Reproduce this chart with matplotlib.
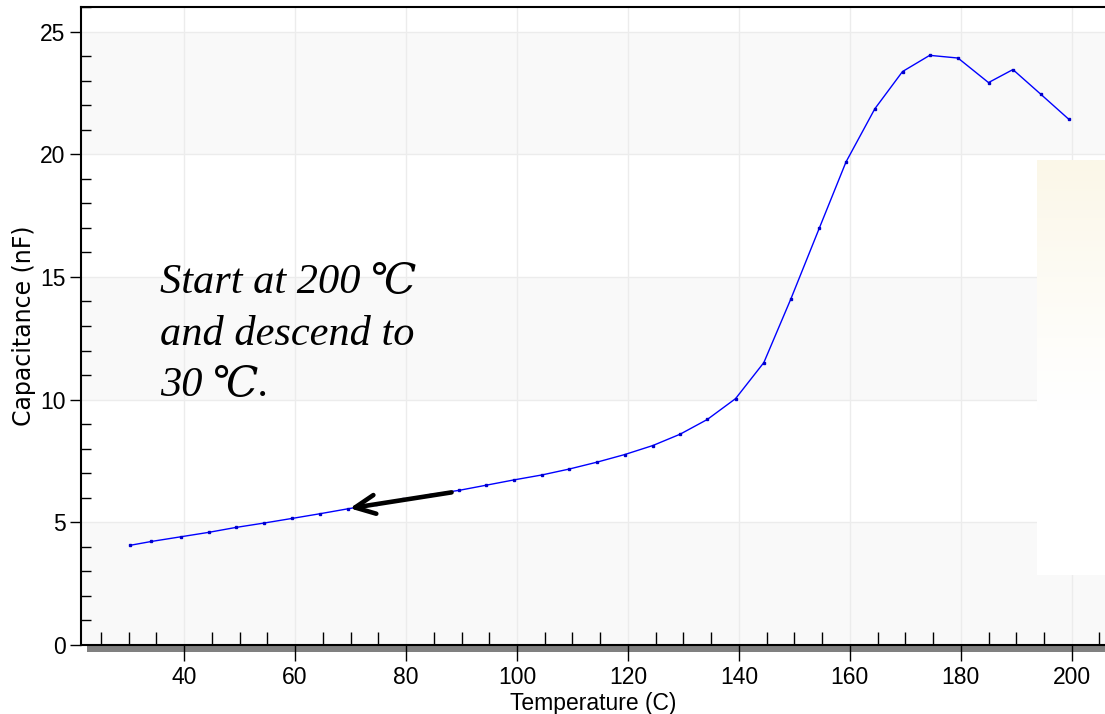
import numpy as np
import matplotlib
matplotlib.use("Agg")
import matplotlib.pyplot as plt
from matplotlib.ticker import MultipleLocator
from matplotlib.patches import Rectangle

temperature = [30.2, 34.1, 39.4, 44.4, 49.3, 54.4, 59.5, 64.5, 69.5, 74.5, 79.5, 84.4,
               89.5, 94.4, 99.5, 104.5, 109.4, 114.4, 119.4, 124.5, 129.4, 134.3, 139.4,
               144.5, 149.4, 154.5, 159.3, 164.5, 169.5, 174.4, 179.5, 185.0, 189.4,
               194.4, 199.5]
capacitance = [4.06, 4.22, 4.41, 4.59, 4.79, 4.97, 5.16, 5.35, 5.55, 5.74, 5.93, 6.13,
               6.30, 6.51, 6.73, 6.93, 7.17, 7.45, 7.76, 8.13, 8.59, 9.19, 10.04,
               11.51, 14.12, 16.99, 19.68, 21.85, 23.37, 24.03, 23.92, 22.92, 23.45,
               22.45, 21.42]
x_ticks = [40, 60, 80, 100, 120, 140, 160, 180, 200]
y_ticks = [0, 5, 10, 15, 20, 25]
band_ranges = [(0, 5), (10, 15), (20, 25)]
note_text = "Start at 200\u2009\u2103\nand descend to\n30\u2009\u2103."
arrow_tail = (88.2, 6.22)
arrow_head = (69.85, 5.57)

plt.rcParams['font.family'] = ['Liberation Sans', 'DejaVu Sans']

W, H = 1105, 714
fig = plt.figure(figsize=(W / 100, H / 100), dpi=100)
fig.patch.set_facecolor('white')
ax = fig.add_axes([81 / W, (H - 645) / H, (W - 81) / W, (645 - 7) / H])

ax.set_xlim(21.4, 206.0)
ax.set_ylim(0, 26)

for lo, hi in band_ranges:
    ax.axhspan(lo, hi, color='#f9f9f9', zorder=0, lw=0)
for yv in y_ticks[1:]:
    ax.axhline(yv, color='#ececec', lw=1.0, zorder=0.5)
for xv in x_ticks:
    ax.axvline(xv, color='#ececec', lw=1.0, zorder=0.5)

ax.plot(temperature, capacitance, color='#0000ff', lw=1.0, marker='s',
        markersize=1.6, markerfacecolor='#0000cc', markeredgecolor='#0000cc', zorder=3)

ax.annotate('', xy=arrow_head, xytext=arrow_tail,
            arrowprops=dict(arrowstyle='->,head_length=0.72,head_width=0.34', lw=3.3,
                            color='black', shrinkA=0, shrinkB=0, mutation_scale=20),
            zorder=4)

ax.text(35.6, 15.53, note_text, fontsize=30.5, style='italic',
        family=['Liberation Serif', 'DejaVu Serif'], va='top', ha='left',
        linespacing=1.43, zorder=5)

ax.set_xticks(x_ticks)
ax.set_yticks(y_ticks)
ax.xaxis.set_minor_locator(MultipleLocator(5))
ax.yaxis.set_minor_locator(MultipleLocator(1))
ax.tick_params(axis='x', which='major', direction='out', length=11.5, width=1.0,
               labelsize=16.5, pad=3.5)
ax.tick_params(axis='y', which='major', direction='out', length=8, width=1.0,
               labelsize=16.5, pad=3)
ax.tick_params(axis='x', which='minor', direction='in', length=9.5, width=1.0)
ax.tick_params(axis='y', which='minor', direction='in', length=7.5, width=1.0)

for s in ['top', 'left', 'bottom']:
    ax.spines[s].set_linewidth(1.5)
    ax.spines[s].set_color('black')
ax.spines['right'].set_visible(False)

ax.set_xlabel('Temperature (C)', fontsize=16.5, labelpad=2)
ax.set_ylabel('Capacitance (nF)', fontsize=17, family=['DejaVu Sans'], labelpad=3)

# shadow under bottom spine
fig.add_artist(Rectangle((87 / W, (H - 652) / H), (W - 87) / W, 6 / H,
                         transform=fig.transFigure, facecolor='#808080',
                         edgecolor='none', zorder=-1))

# cream pasted patch on the right
pax = fig.add_axes([1037 / W, (H - 575) / H, (W - 1037) / W, (575 - 160) / H], zorder=10)
n = 200
t = np.linspace(0, 1, n)
fade = np.clip(1 - t / 0.6, 0, 1) ** 1.1
top_col = np.array([251, 247, 232]) / 255.0
grad = np.ones((n, 1, 3)) * (1 - fade[:, None, None]) + top_col[None, None, :] * fade[:, None, None]
pax.imshow(grad, aspect='auto', extent=(0, 1, 0, 1), origin='upper')
pax.set_axis_off()

fig.savefig('out.png', dpi=100)
